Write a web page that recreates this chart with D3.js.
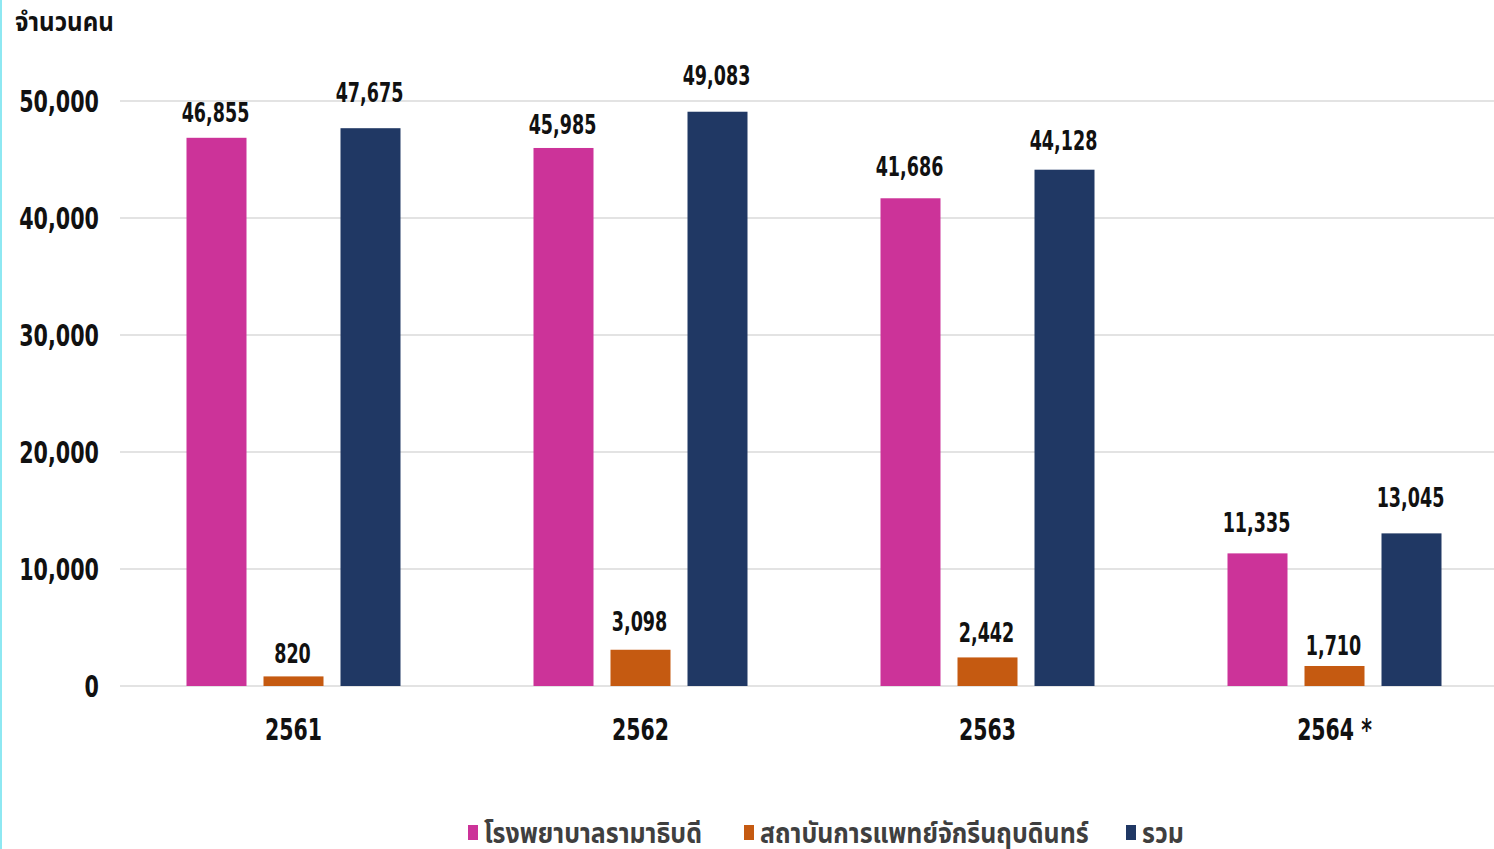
<!DOCTYPE html>
<html>
<head>
<meta charset="utf-8">
<script src="https://cdn.jsdelivr.net/npm/d3@7"></script>
<style>
  body { margin: 0; background: #fff; overflow: hidden; }
  text { font-family: "DejaVu Sans", "Noto Sans Thai", "Noto Sans", sans-serif; font-weight: bold; fill: #111; }
</style>
</head>
<body>
<div id="chart"></div>
<script>
var width = 1494;
var height = 849;

// data
var years = ["2561", "2562", "2563", "2564 *"];
var seriesNames = ["โรงพยาบาลรามาธิบดี", "สถาบันการแพทย์จักรีนฤบดินทร์", "รวม"];
var ramathibodi = [46855, 45985, 41686, 11335];
var chakri = [820, 3098, 2442, 1710];
var total = [47675, 49083, 44128, 13045];
var yTicks = [0, 10000, 20000, 30000, 40000, 50000];
var colors = ["#cc3399", "#c55a11", "#203864"];

// label lift above bar top (layout only), per year, per series
var labelLift = [[26, 23, 36], [24, 29, 37], [32, 25, 30], [31, 21, 36]];

var svg = d3.select("#chart")
  .append("svg")
  .attr("width", width)
  .attr("height", height);

// squeeze text horizontally around its anchor to mimic the narrow font
function squeeze(sel, sx) {
  sel.each(function(){
    var t = d3.select(this);
    var tx = +t.attr("x") || 0, ty = +t.attr("y") || 0;
    t.attr("x", 0).attr("y", 0)
     .attr("transform", "translate(" + tx + "," + ty + ") scale(" + sx + ",1)");
  });
}

// cyan edge on the left
svg.append("rect")
  .attr("x", 0).attr("y", 0)
  .attr("width", 2).attr("height", height)
  .attr("fill", "#8ee8f2");

var x0 = d3.scaleBand().domain(years).range([120, 1508]).paddingInner(0).paddingOuter(0);
var x1 = d3.scaleBand().domain(d3.range(3)).range([66.5, 66.5 + 214]).paddingInner(17 / 77).paddingOuter(0);
var y = d3.scaleLinear().domain([0, 50000]).range([686, 101]);

// gridlines
svg.append("g").selectAll("line")
  .data(yTicks)
  .enter().append("line")
  .attr("x1", 120).attr("x2", width)
  .attr("y1", function(d){ return y(d); })
  .attr("y2", function(d){ return y(d); })
  .attr("stroke", "#e3e3e3")
  .attr("stroke-width", 2);

// y axis labels
var fmt = d3.format(",");
svg.append("g").selectAll("text")
  .data(yTicks)
  .enter().append("text")
  .attr("x", 99)
  .attr("y", function(d){ return y(d) + 11; })
  .attr("text-anchor", "end")
  .style("font-size", "30px")
  .text(function(d){ return fmt(d); })
  .call(squeeze, 0.69);

svg.append("text")
  .attr("x", 15).attr("y", 31)
  .style("font-size", "26px")
  .text("จำนวนคน")
  .call(squeeze, 0.93);

// rows per year
var rows = years.map(function(yr, i){
  return { year: yr, idx: i, values: [ramathibodi[i], chakri[i], total[i]] };
});

var groups = svg.append("g").selectAll("g")
  .data(rows)
  .enter().append("g")
  .attr("transform", function(d){ return "translate(" + x0(d.year) + ",0)"; });

groups.selectAll("rect")
  .data(function(d){ return d.values; })
  .enter().append("rect")
  .attr("x", function(d, i){ return x1(i); })
  .attr("width", x1.bandwidth())
  .attr("y", function(d){ return y(d); })
  .attr("height", function(d){ return y(0) - y(d); })
  .attr("fill", function(d, i){ return colors[i]; });

groups.selectAll("text.val")
  .data(function(d){ return d.values.map(function(v, i){ return { v: v, i: i, lift: labelLift[d.idx][i] }; }); })
  .enter().append("text")
  .attr("class", "val")
  .attr("x", function(d){ return x1(d.i) + x1.bandwidth() / 2 - 1; })
  .attr("y", function(d){ return y(d.v) - d.lift + 10; })
  .attr("text-anchor", "middle")
  .style("font-size", "27px")
  .text(function(d){ return fmt(d.v); })
  .call(squeeze, 0.65);

// x axis labels
svg.append("g").selectAll("text")
  .data(years)
  .enter().append("text")
  .attr("x", function(d){ return x0(d) + x0.bandwidth() / 2; })
  .attr("y", 740)
  .attr("text-anchor", "middle")
  .style("font-size", "31px")
  .text(function(d){ return d; })
  .call(squeeze, 0.66);

// legend
var legendX = [468, 744, 1126];
var legend = svg.append("g").selectAll("g")
  .data(seriesNames)
  .enter().append("g")
  .attr("transform", function(d, i){ return "translate(" + legendX[i] + ",825)"; });

legend.append("rect")
  .attr("width", 10).attr("height", 15)
  .attr("fill", function(d, i){ return colors[i]; });

legend.append("text")
  .attr("x", 16).attr("y", 18)
  .style("font-size", "28px")
  .style("fill", "#3f3f3f")
  .text(function(d){ return d; })
  .call(squeeze, 0.89);
</script>
</body>
</html>
